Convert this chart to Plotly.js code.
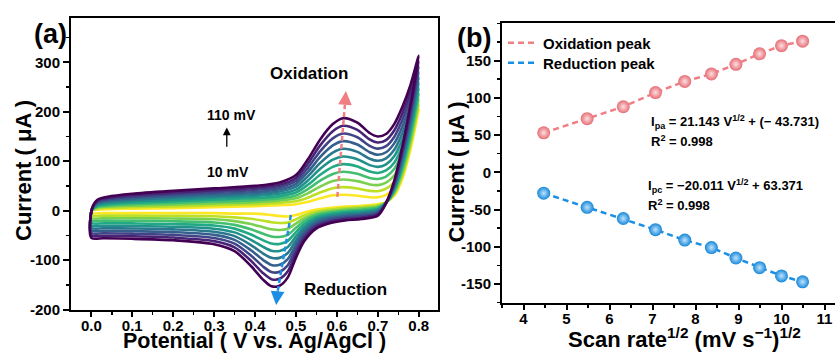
<!DOCTYPE html>
<html>
<head>
<meta charset="utf-8">
<script src="https://cdn.plot.ly/plotly-3.0.1.min.js"></script>
<style>html,body{margin:0;padding:0;background:#fff}#chart{width:835px;height:354px}</style>
</head>
<body>
<div id="chart"></div>
<script>
// ---------- Panel (a): cyclic voltammograms ----------
const scanRates = [10, 20, 30, 40, 50, 60, 70, 80, 90, 100, 110]; // mV/s
const potentialForward = [0, 0.002, 0.015, 0.04, 0.10, 0.20, 0.30, 0.40, 0.46, 0.50, 0.53, 0.56, 0.59, 0.615, 0.65, 0.68, 0.70, 0.72, 0.74, 0.76, 0.78, 0.80];
const potentialReverse = [0.78, 0.76, 0.74, 0.72, 0.70, 0.66, 0.62, 0.58, 0.55, 0.52, 0.50, 0.48, 0.46, 0.44, 0.42, 0.39, 0.35, 0.30, 0.20, 0.10, 0.03, 0.00];

const fwd10  = [-5, 0, 2, 3, 4, 5, 7, 9, 11, 13, 18, 25, 31, 32, 30, 27, 27, 32, 45, 78, 130, 204];
const rev10  = [125, 65, 30, 17, 13, 10, 8, 5, 2, -4, -9, -12, -11, -9, -7, -6, -6, -5, -5, -5, -5, -5];
const fwd20  = [-10, 0.5, 4, 5.5, 7, 8.5, 10.8, 13.1, 15.6, 18.9, 26.7, 37, 45.4, 47.5, 44.8, 40, 39.3, 44.3, 58, 91.2, 142.5, 214.9];
const rev20  = [134, 71.5, 33, 16.8, 10.7, 7.3, 5.2, 1.9, -1.8, -9.8, -17.6, -24.3, -25.1, -23.4, -20.3, -16.6, -13.6, -11.3, -10.5, -10.2, -10.1, -10];
const fwd30  = [-15, 1, 6, 8, 10, 12, 14.6, 17.2, 20.2, 24.8, 35.4, 49, 59.8, 63, 59.6, 53, 51.6, 56.6, 71, 104.4, 155, 225.8];
const rev30  = [143, 78, 36, 16.6, 8.4, 4.6, 2.4, -1.2, -5.6, -15.6, -26.2, -36.6, -39.2, -37.8, -33.6, -27.2, -21.2, -17.6, -16, -15.4, -15.2, -15];
const fwd40  = [-20, 1.5, 8, 10.5, 13, 15.5, 18.4, 21.3, 24.8, 30.7, 44.1, 61, 74.2, 78.5, 74.4, 66, 63.9, 68.9, 84, 117.6, 167.5, 236.7];
const rev40  = [152, 84.5, 39, 16.4, 6.1, 1.9, -0.4, -4.3, -9.4, -21.4, -34.8, -48.9, -53.3, -52.2, -46.9, -37.8, -28.8, -23.9, -21.5, -20.6, -20.3, -20];
const fwd50  = [-25, 2, 10, 13, 16, 19, 22.2, 25.4, 29.4, 36.6, 52.8, 73, 88.6, 94, 89.2, 79, 76.2, 81.2, 97, 130.8, 180, 247.6];
const rev50  = [161, 91, 42, 16.2, 3.8, -0.8, -3.2, -7.4, -13.2, -27.2, -43.4, -61.2, -67.4, -66.6, -60.2, -48.4, -36.4, -30.2, -27, -25.8, -25.4, -25];
const fwd60  = [-30, 2.5, 12, 15.5, 19, 22.5, 26, 29.5, 34, 42.5, 61.5, 85, 103, 109.5, 104, 92, 88.5, 93.5, 110, 144, 192.5, 258.5];
const rev60  = [170, 97.5, 45, 16, 1.5, -3.5, -6, -10.5, -17, -33, -52, -73.5, -81.5, -81, -73.5, -59, -44, -36.5, -32.5, -31, -30.5, -30];
const fwd70  = [-35, 3, 14, 18, 22, 26, 29.8, 33.6, 38.6, 48.4, 70.2, 97, 117.4, 125, 118.8, 105, 100.8, 105.8, 123, 157.2, 205, 269.4];
const rev70  = [179, 104, 48, 15.8, -0.8, -6.2, -8.8, -13.6, -20.8, -38.8, -60.6, -85.8, -95.6, -95.4, -86.8, -69.6, -51.6, -42.8, -38, -36.2, -35.6, -35];
const fwd80  = [-40, 3.5, 16, 20.5, 25, 29.5, 33.6, 37.7, 43.2, 54.3, 78.9, 109, 131.8, 140.5, 133.6, 118, 113.1, 118.1, 136, 170.4, 217.5, 280.3];
const rev80  = [188, 110.5, 51, 15.6, -3.1, -8.9, -11.6, -16.7, -24.6, -44.6, -69.2, -98.1, -109.7, -109.8, -100.1, -80.2, -59.2, -49.1, -43.5, -41.4, -40.7, -40];
const fwd90  = [-45, 4, 18, 23, 28, 33, 37.4, 41.8, 47.8, 60.2, 87.6, 121, 146.2, 156, 148.4, 131, 125.4, 130.4, 149, 183.6, 230, 291.2];
const rev90  = [197, 117, 54, 15.4, -5.4, -11.6, -14.4, -19.8, -28.4, -50.4, -77.8, -110.4, -123.8, -124.2, -113.4, -90.8, -66.8, -55.4, -49, -46.6, -45.8, -45];
const fwd100 = [-50, 4.5, 20, 25.5, 31, 36.5, 41.2, 45.9, 52.4, 66.1, 96.3, 133, 160.6, 171.5, 163.2, 144, 137.7, 142.7, 162, 196.8, 242.5, 302.1];
const rev100 = [206, 123.5, 57, 15.2, -7.7, -14.3, -17.2, -22.9, -32.2, -56.2, -86.4, -122.7, -137.9, -138.6, -126.7, -101.4, -74.4, -61.7, -54.5, -51.8, -50.9, -50];
const fwd110 = [-55, 5, 22, 28, 34, 40, 45, 50, 57, 72, 105, 145, 175, 187, 178, 157, 150, 155, 175, 210, 255, 313];
const rev110 = [215, 130, 60, 15, -10, -17, -20, -26, -36, -62, -95, -135, -152, -153, -140, -112, -82, -68, -60, -57, -56, -55];

const cvColors = ['#fde725', '#bddf26', '#7ad151', '#44bf70', '#22a884', '#21918c', '#2a788e', '#355f8d', '#414487', '#482475', '#440154'];

const aTickVals = [0, 0.1, 0.2, 0.3, 0.4, 0.5, 0.6, 0.7, 0.8];
const aTickText = ['0.0', '0.1', '0.2', '0.3', '0.4', '0.5', '0.6', '0.7', '0.8'];
const aYTickVals = [-200, -100, 0, 100, 200, 300];
const aYTickText = ['-200', '-100', '0', '100', '200', '300'];

// ---------- Panel (b): peak current vs sqrt(scan rate) ----------
const sqrtScanRate = [4.47, 5.48, 6.32, 7.07, 7.75, 8.37, 8.94, 9.49, 10.0, 10.49];
const oxidationPeak = [53, 72, 88, 107, 122, 132, 145, 159, 170, 176];
const reductionPeak = [-28, -47, -62, -77, -91, -101, -115, -128, -139, -147];
const bXTickVals = [4, 5, 6, 7, 8, 9, 10, 11];
const bXTickText = ['4', '5', '6', '7', '8', '9', '10', '11'];
const bYTickVals = [-150, -100, -50, 0, 50, 100, 150];
const bYTickText = ['-150', '-100', '-50', '0', '50', '100', '150'];

const FONT = "'Liberation Sans', Arial, Helvetica, sans-serif";
const W = 835, H = 354;
const px = v => v / W;
const py = v => 1 - v / H;
const bold = arr => arr.map(s => '<b>' + s + '</b>');
const SUP = s => '<sup><span style="font-size:9px">' + s + '</span></sup>';

const fwdSets = [fwd10, fwd20, fwd30, fwd40, fwd50, fwd60, fwd70, fwd80, fwd90, fwd100, fwd110];
const revSets = [rev10, rev20, rev30, rev40, rev50, rev60, rev70, rev80, rev90, rev100, rev110];

const traces = [];
scanRates.forEach((r, i) => {
  traces.push({
    type: 'scatter', mode: 'lines', xaxis: 'x', yaxis: 'y',
    x: potentialForward.concat(potentialReverse),
    y: fwdSets[i].concat(revSets[i]),
    line: {color: cvColors[i], width: 2.6, shape: 'spline', smoothing: 0.8},
    showlegend: false, hoverinfo: 'skip', name: r + ' mV'
  });
});

traces.push({type: 'scatter', mode: 'lines', xaxis: 'x2', yaxis: 'y2', name: '<b>Oxidation peak</b>', legend: 'legend',
  x: sqrtScanRate, y: oxidationPeak, line: {color: '#f07f84', width: 2.5, dash: '6px,4px'}});
traces.push({type: 'scatter', mode: 'lines', xaxis: 'x2', yaxis: 'y2', name: '<b>Reduction peak</b>', legend: 'legend2',
  x: sqrtScanRate, y: reductionPeak, line: {color: '#1a8fe3', width: 2.5, dash: '6px,4px'}});
traces.push({type: 'scatter', mode: 'markers', xaxis: 'x2', yaxis: 'y2', showlegend: false,
  x: sqrtScanRate, y: oxidationPeak,
  marker: {size: 13, color: '#e66d75', gradient: {type: 'radial', color: '#fcdfe1'}, line: {width: 0}}});
traces.push({type: 'scatter', mode: 'markers', xaxis: 'x2', yaxis: 'y2', showlegend: false,
  x: sqrtScanRate, y: reductionPeak,
  marker: {size: 13, color: '#1687d8', gradient: {type: 'radial', color: '#bfe3ff'}, line: {width: 0}}});

const tickFont = {family: FONT, size: 15, color: '#000', weight: 'bold'};
const axisBase = {
  showgrid: false, zeroline: false, showline: true, linecolor: '#000', linewidth: 2,
  ticks: 'outside', ticklen: 6, tickwidth: 2, tickcolor: '#000', tickfont: tickFont,
  fixedrange: true
};
const legFont = {family: FONT, size: 15, color: '#000', weight: 'bold'};

const layout = {
  width: W, height: H, margin: {l: 0, r: 0, t: 0, b: 0},
  paper_bgcolor: '#fff', plot_bgcolor: '#fff',
  font: {family: FONT, color: '#000'},
  showlegend: true,
  legend: {x: px(503), y: py(43), xanchor: 'left', yanchor: 'middle', bgcolor: 'rgba(0,0,0,0)',
    font: legFont, itemwidth: 30},
  legend2: {x: px(503), y: py(63), xanchor: 'left', yanchor: 'middle', bgcolor: 'rgba(0,0,0,0)',
    font: legFont, itemwidth: 30},
  xaxis: Object.assign({}, axisBase, {domain: [px(71), px(438.3)], range: [-0.0496, 0.8477], anchor: 'y', mirror: true,
    ticklen: 5, tickmode: 'array', tickvals: aTickVals, ticktext: bold(aTickText), ticklabelstandoff: -4,
    minor: {ticks: 'outside', ticklen: 3, tickwidth: 1.5, tickcolor: '#000', tick0: 0, dtick: 0.05}}),
  yaxis: Object.assign({}, axisBase, {domain: [py(309.5), py(18.3)], range: [-200, 389], anchor: 'x', mirror: true,
    tickmode: 'array', tickvals: aYTickVals, ticktext: bold(aYTickText),
    minor: {ticks: 'outside', ticklen: 3, tickwidth: 1.5, tickcolor: '#000', tick0: 0, dtick: 50}}),
  xaxis2: Object.assign({}, axisBase, {domain: [px(502), 1], range: [3.5, 11.244], anchor: 'y2', mirror: true,
    ticklen: 5, tickmode: 'array', tickvals: bXTickVals, ticktext: bold(bXTickText), ticklabelstandoff: -4,
    minor: {ticks: 'outside', ticklen: 3, tickwidth: 1.5, tickcolor: '#000', tick0: 0, dtick: 0.5}}),
  yaxis2: Object.assign({}, axisBase, {domain: [py(302.7), py(23.3)], range: [-175, 200], anchor: 'x2', mirror: false,
    tickmode: 'array', tickvals: bYTickVals, ticktext: bold(bYTickText),
    minor: {ticks: 'outside', ticklen: 3, tickwidth: 1.5, tickcolor: '#000', tick0: 0, dtick: 25}}),
  shapes: [
    {type: 'line', xref: 'x', yref: 'y', x0: 0.601, y0: 28, x1: 0.6195, y1: 214,
      line: {color: '#f07f84', width: 2.5, dash: '5px,3px'}},
    {type: 'line', xref: 'x', yref: 'y', x0: 0.4875, y0: -9, x1: 0.4555, y1: -162,
      line: {color: '#1a8fe3', width: 2.5, dash: '5px,3px'}}
  ],
  annotations: []
};

const A = layout.annotations;
const titleFont = {family: FONT, size: 22, color: '#000', weight: 'bold'};
// axis titles
A.push({xref: 'paper', yref: 'paper', x: px(254.5), y: py(341), text: '<b>Potential ( V vs. Ag/AgCl )</b>',
  showarrow: false, font: {family: FONT, size: 21.5, color: '#000', weight: 'bold'}, xanchor: 'center', yanchor: 'middle'});
A.push({xref: 'paper', yref: 'paper', x: px(23), y: py(171), text: '<b>Current ( μA )</b>', textangle: -90,
  showarrow: false, font: titleFont, xanchor: 'center', yanchor: 'middle'});
A.push({xref: 'paper', yref: 'paper', x: px(455.5), y: py(172), text: '<b>Current ( μA )</b>', textangle: -90,
  showarrow: false, font: titleFont, xanchor: 'center', yanchor: 'middle'});
A.push({xref: 'paper', yref: 'paper', x: px(684), y: py(338), text: '<b>Scan rate<sup>1/2</sup> (mV s<sup>−1</sup>)<sup>1/2</sup></b>',
  showarrow: false, font: titleFont, xanchor: 'center', yanchor: 'middle'});
// panel labels
A.push({xref: 'paper', yref: 'paper', x: px(50.5), y: py(34), text: '<b>(a)</b>', showarrow: false,
  font: {family: FONT, size: 27, color: '#000', weight: 'bold'}, xanchor: 'center', yanchor: 'middle'});
A.push({xref: 'paper', yref: 'paper', x: px(474), y: py(38), text: '<b>(b)</b>', showarrow: false,
  font: {family: FONT, size: 27, color: '#000', weight: 'bold'}, xanchor: 'center', yanchor: 'middle'});
// panel (a) texts
const labFont = {family: FONT, size: 17, color: '#000', weight: 'bold'};
const smallFont = {family: FONT, size: 14, color: '#000', weight: 'bold'};
A.push({xref: 'x', yref: 'y', x: 0.5306, y: 277, text: '<b>Oxidation</b>', showarrow: false, font: labFont});
A.push({xref: 'x', yref: 'y', x: 0.620, y: -160, text: '<b>Reduction</b>', showarrow: false, font: labFont});
A.push({xref: 'x', yref: 'y', x: 0.343, y: 194, text: '<b>110 mV</b>', showarrow: false, font: smallFont});
A.push({xref: 'x', yref: 'y', x: 0.3335, y: 79, text: '<b>10 mV</b>', showarrow: false, font: smallFont});
A.push({xref: 'x', yref: 'y', axref: 'x', ayref: 'y', x: 0.331, y: 168, ax: 0.331, ay: 126, text: '',
  showarrow: true, arrowhead: 2, arrowsize: 1.2, arrowwidth: 1.3, arrowcolor: '#000', standoff: 0});
A.push({xref: 'x', yref: 'y', axref: 'x', ayref: 'y', x: 0.622, y: 242, ax: 0.6195, ay: 212, text: '',
  showarrow: true, arrowhead: 2, arrowsize: 1.1, arrowwidth: 2.5, arrowcolor: '#f07f84', standoff: 0});
A.push({xref: 'x', yref: 'y', axref: 'x', ayref: 'y', x: 0.4516, y: -191, ax: 0.4555, ay: -160, text: '',
  showarrow: true, arrowhead: 2, arrowsize: 1.1, arrowwidth: 2.5, arrowcolor: '#1a8fe3', standoff: 0});
// panel (b) equations
const eqFont = {family: FONT, size: 13, color: '#000', weight: 'bold'};
A.push({xref: 'paper', yref: 'paper', x: px(649), y: py(122), xanchor: 'left', yanchor: 'middle', showarrow: false,
  text: '<b>I<sub>pa</sub> = 21.143 V' + SUP('1/2') + ' + (− 43.731)</b>', font: eqFont});
A.push({xref: 'paper', yref: 'paper', x: px(649), y: py(141), xanchor: 'left', yanchor: 'middle', showarrow: false,
  text: '<b>R<sup>2</sup> = 0.998</b>', font: eqFont});
A.push({xref: 'paper', yref: 'paper', x: px(646), y: py(186), xanchor: 'left', yanchor: 'middle', showarrow: false,
  text: '<b>I<sub>pc</sub> = −20.011 V' + SUP('1/2') + ' + 63.371</b>', font: eqFont});
A.push({xref: 'paper', yref: 'paper', x: px(646), y: py(205), xanchor: 'left', yanchor: 'middle', showarrow: false,
  text: '<b>R<sup>2</sup> = 0.998</b>', font: eqFont});

Plotly.newPlot('chart', traces, layout, {displayModeBar: false, staticPlot: true});
</script>
</body>
</html>
